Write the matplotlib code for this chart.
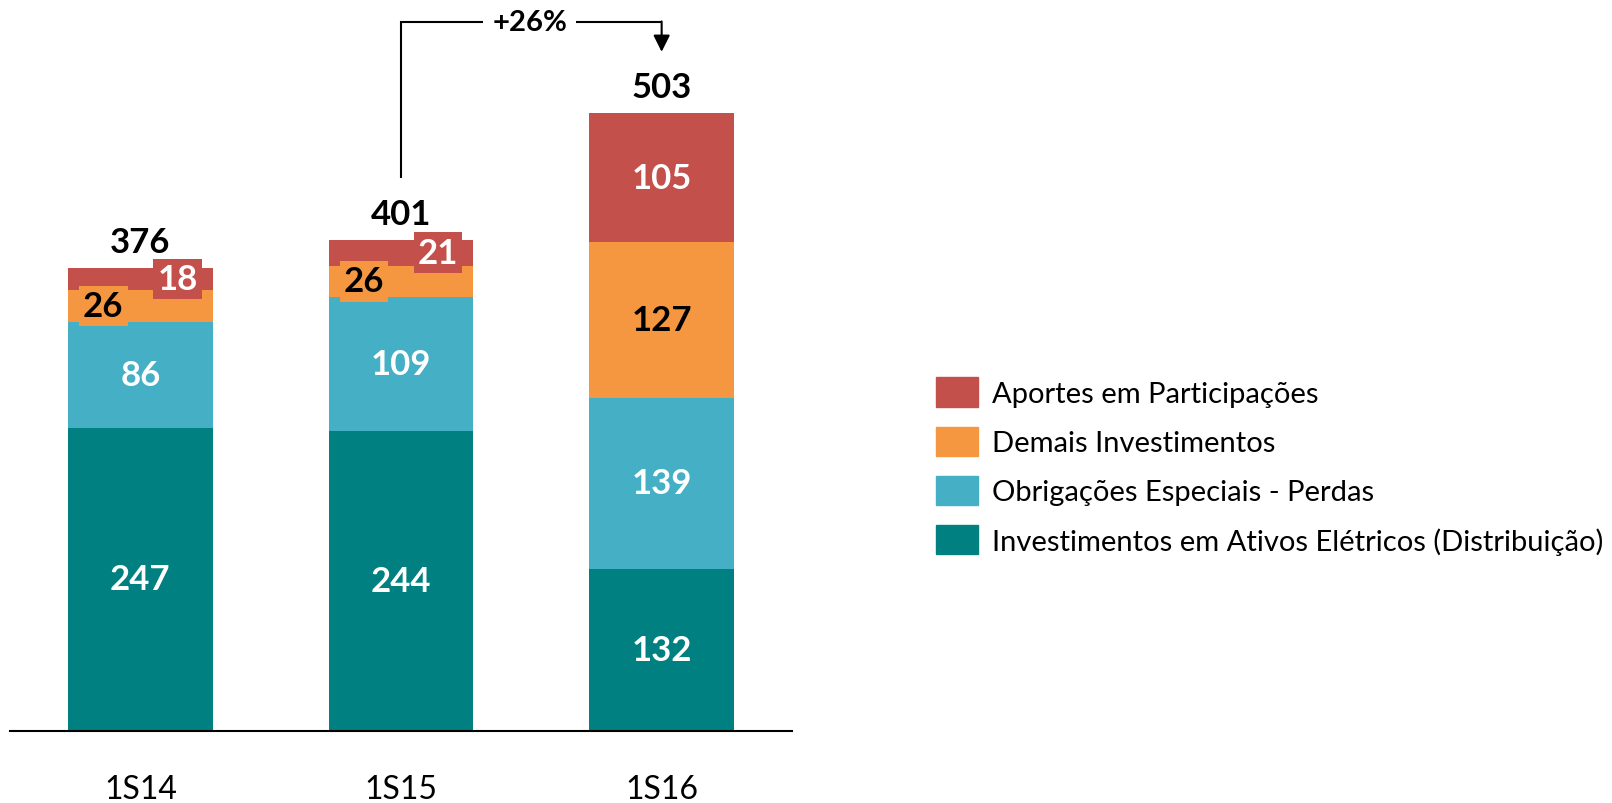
import numpy as np
import matplotlib
matplotlib.use('Agg')
import matplotlib.pyplot as plt
from matplotlib.patches import Patch

plt.rcParams['font.family'] = ['Lato', 'DejaVu Sans']

# data
periods = ['1S14', '1S15', '1S16']
ativos = [247, 244, 132]        # Investimentos em Ativos Eletricos (Distribuicao)
obrigacoes = [86, 109, 139]     # Obrigacoes Especiais - Perdas
demais = [26, 26, 127]          # Demais Investimentos
aportes = [18, 21, 105]         # Aportes em Participacoes
totals = [376, 401, 503]
growth_label = '+26%'

series = [
    ('Investimentos em Ativos Elétricos (Distribuição)', ativos, '#008080', 'white'),
    ('Obrigações Especiais - Perdas', obrigacoes, '#45AFC6', 'white'),
    ('Demais Investimentos', demais, '#F59641', 'black'),
    ('Aportes em Participações', aportes, '#C4504C', 'white'),
]

fig = plt.figure(figsize=(16.12, 8.04), dpi=100)
ax = fig.add_axes([0.0062, 0.0896, 0.4851, 0.9104])

x = np.arange(len(periods))
width = 0.556
bottom = np.zeros(len(periods))
small = 40  # segments thinner than this get an offset, boxed label

for name, vals, color, tcolor in series:
    vals = np.array(vals, dtype=float)
    ax.bar(x, vals, width, bottom=bottom, color=color, label=name)
    for i, v in enumerate(vals):
        yc = bottom[i] + v / 2
        if v < small:
            dx = -0.142 if name.startswith('Demais') else 0.142
            ax.text(x[i] + dx, yc, str(int(v)), ha='center', va='center',
                    fontsize=25, fontweight='bold', color=tcolor,
                    bbox=dict(boxstyle='square,pad=0.12', fc=color, ec='none'))
        else:
            ax.text(x[i], yc, str(int(v)), ha='center', va='center',
                    fontsize=25, fontweight='bold', color=tcolor)
    bottom += vals

for i, t in enumerate(totals):
    ax.text(x[i], bottom[i] + 21, str(t), ha='center', va='center',
            fontsize=25, fontweight='bold', color='black')

# growth bracket from 1S15 to 1S16
y_start = bottom[1] + 50
y_level = max(totals) + 74
y_tip = max(totals) + 50
ax.plot([x[1], x[1], x[1] + 0.314], [y_start, y_level, y_level], color='black', lw=1.5,
        solid_capstyle='butt', solid_joinstyle='miter')
ax.plot([x[1] + 0.67, x[2]], [y_level, y_level], color='black', lw=1.5, solid_capstyle='butt')
ax.annotate('', xy=(x[2], y_tip), xytext=(x[2], y_level + 0.7),
            arrowprops=dict(arrowstyle='-|>', mutation_scale=25, lw=1.5, color='black',
                            shrinkA=0, shrinkB=0))
ax.text((x[1] + x[2]) / 2 - 0.006, y_level, growth_label, ha='center', va='center',
        fontsize=21, fontweight='bold')

ax.set_xlim(-0.5, 2.5)
ax.set_ylim(0, 596)
ax.set_xticks(x)
ax.set_xticklabels(periods, fontsize=23)
ax.tick_params(axis='x', length=0, pad=31)
ax.set_yticks([])
for s in ['top', 'right', 'left']:
    ax.spines[s].set_visible(False)
ax.spines['bottom'].set_linewidth(1.5)

handles = [Patch(color=c, label=n) for n, _, c, _ in series[::-1]]
fig.legend(handles=handles, loc='center left', bbox_to_anchor=(0.5804, 0.419),
           frameon=False, fontsize=21, handlelength=1.47, handleheight=1.16,
           handletextpad=0.45, labelspacing=0.68, borderaxespad=0, borderpad=0)

fig.savefig('out.png', dpi=100)
